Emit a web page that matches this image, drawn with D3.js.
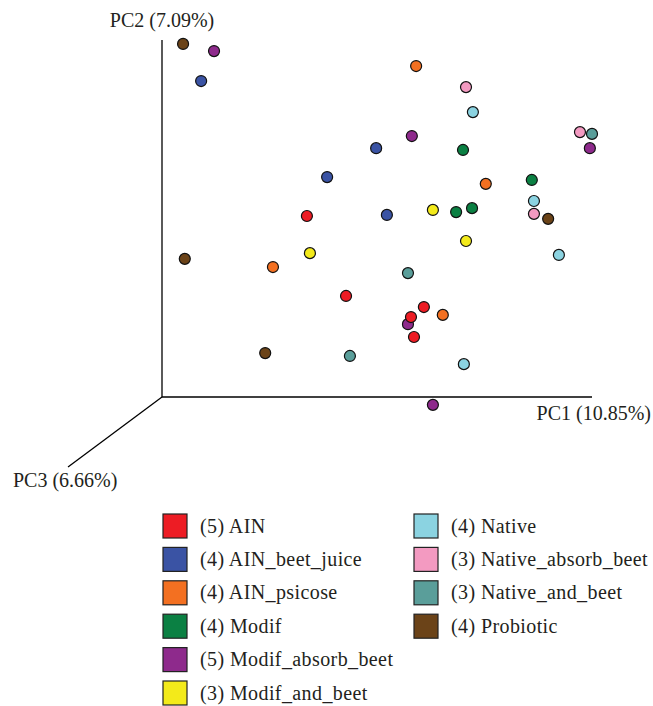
<!DOCTYPE html>
<html>
<head>
<meta charset="utf-8">
<script src="https://cdn.jsdelivr.net/npm/d3@7"></script>
<style>
body { margin: 0; background: #fff; }
text { font-family: "Liberation Serif", "Times New Roman", serif; fill: #231f20; }
</style>
</head>
<body>
<svg width="653" height="706"></svg>
<script>
// groups, sample counts and colours
var groups = ["AIN", "AIN_beet_juice", "AIN_psicose", "Modif", "Modif_absorb_beet",
  "Modif_and_beet", "Native", "Native_absorb_beet", "Native_and_beet", "Probiotic"];
var counts = [5, 4, 4, 4, 5, 3, 4, 3, 3, 4];
var colors = ["#ed1c24", "#3a53a4", "#f37021", "#0b8043", "#8e2a8c",
  "#f3ea1a", "#8bd3e1", "#f39ac1", "#5a9e9a", "#6b4318"];

// projected scores (relative units along PC1 / PC2), one array per group
var pc1 = [
  [33.7, 42.8, 60.9, 57.9, 58.6],
  [9.1, 38.4, 49.8, 52.3],
  [59.1, 75.3, 25.8, 65.3],
  [70.0, 86.0, 68.4, 72.1],
  [12.1, 58.1, 99.5, 57.2, 63.0],
  [63.0, 34.4, 70.7],
  [72.3, 86.5, 92.3, 70.2],
  [70.7, 97.2, 86.5],
  [100.0, 57.2, 43.7],
  [4.9, 89.8, 5.3, 24.0]
];
var pc2 = [
  [50.7, 28.3, 25.2, 22.4, 16.8],
  [88.5, 61.6, 69.7, 51.0],
  [92.7, 59.7, 36.4, 23.0],
  [69.2, 60.8, 51.8, 52.9],
  [96.9, 73.1, 69.7, 20.4, -2.2],
  [52.4, 40.3, 43.7],
  [79.8, 54.9, 39.8, 9.2],
  [86.8, 74.2, 51.3],
  [73.7, 34.7, 11.5],
  [98.9, 49.9, 38.7, 12.3]
];
var axisLabels = ["PC1 (10.85%)", "PC2 (7.09%)", "PC3 (6.66%)"];

var svg = d3.select("svg");

var x = d3.scaleLinear().domain([0, 100]).range([162, 592]);
var y = d3.scaleLinear().domain([0, 100]).range([397, 40]);
// PC3 drawn as an oblique axis going down-left
var zx = d3.scaleLinear().domain([0, 100]).range([162, 68]);
var zy = d3.scaleLinear().domain([0, 100]).range([397, 467]);

var axes = svg.append("g").attr("stroke", "#000").attr("stroke-width", 1.3);
axes.append("line").attr("x1", x(0)).attr("y1", y(0)).attr("x2", x(100)).attr("y2", y(0));
axes.append("line").attr("x1", x(0)).attr("y1", y(0)).attr("x2", x(0)).attr("y2", y(100));
axes.append("line").attr("x1", zx(0)).attr("y1", zy(0)).attr("x2", zx(100)).attr("y2", zy(100));

svg.append("text").attr("x", 651).attr("y", 420).attr("text-anchor", "end")
  .style("font-size", "20px").text(axisLabels[0]);
svg.append("text").attr("x", x(0)).attr("y", 27).attr("text-anchor", "middle")
  .style("font-size", "20px").text(axisLabels[1]);
svg.append("text").attr("x", 13).attr("y", 487)
  .style("font-size", "20px").text(axisLabels[2]);

var points = [];
groups.forEach(function(g, i) {
  pc1[i].forEach(function(v, j) {
    points.push({ g: i, a: v, b: pc2[i][j] });
  });
});
// draw purple group first so overlapping red points sit on top
points.sort(function(p, q) { return (q.g === 4) - (p.g === 4); });

svg.append("g").selectAll("circle")
  .data(points)
  .enter()
  .append("circle")
  .attr("cx", function(d) { return x(d.a); })
  .attr("cy", function(d) { return y(d.b); })
  .attr("r", 5.5)
  .attr("fill", function(d) { return colors[d.g]; })
  .attr("stroke", "#111")
  .attr("stroke-width", 1.2);

// legend
var legend = svg.append("g");
var item = legend.selectAll("g")
  .data(groups)
  .enter()
  .append("g")
  .attr("transform", function(d, i) {
    var col = i < 6 ? 0 : 1;
    var row = i < 6 ? i : i - 6;
    return "translate(" + (163 + col * 251) + "," + (514 + row * 33.4) + ")";
  });
item.append("rect")
  .attr("width", 24).attr("height", 24)
  .attr("fill", function(d, i) { return colors[i]; })
  .attr("stroke", "#222").attr("stroke-width", 1.2);
item.append("text")
  .attr("x", 37).attr("y", 18.5)
  .style("font-size", "20px")
  .style("letter-spacing", "0.4px")
  .text(function(d, i) { return "(" + counts[i] + ") " + d; });
</script>
</body>
</html>
